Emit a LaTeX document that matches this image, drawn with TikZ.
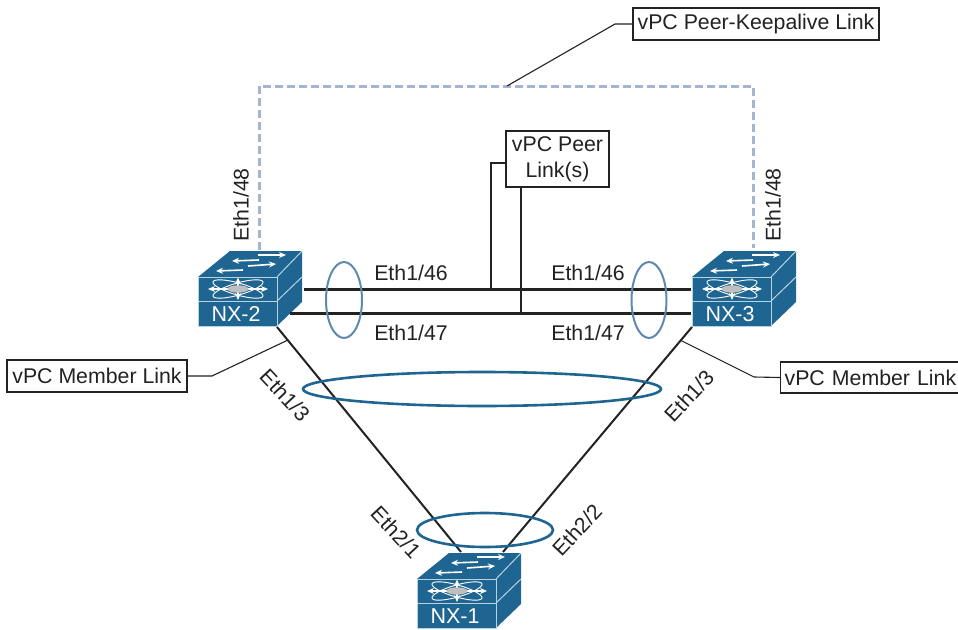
\documentclass[tikz,border=0pt]{standalone}
\usepackage{fontspec}
\setmainfont{Liberation Sans}
\usetikzlibrary{shapes.geometric,arrows.meta}
\definecolor{swblue}{HTML}{1F6592}
\definecolor{swedge}{HTML}{B5D3E2}
\definecolor{ringdark}{HTML}{1F6592}
\definecolor{ringlight}{HTML}{5F88B0}
\definecolor{keep}{HTML}{A3B5D0}
\definecolor{ink}{HTML}{222222}
\tikzset{
  x=1pt,y=-1pt,
  lbl/.style={text=ink,font=\fontsize{21.3}{24}\selectfont,inner sep=0pt},
  callout/.style={draw=ink,line width=1.2pt,fill=white,text=ink,font=\fontsize{21.3}{26}\selectfont,inner sep=0pt,align=center},
  thin line/.style={draw=ink,line width=1.1pt},
  uplink/.style={draw=ink,line width=2pt},
  trunk/.style={draw=ink,line width=3pt},
  ring/.style={ellipse,draw,inner sep=0pt,fill=none},
  swarrow/.style={white,line width=1.6pt,-{Stealth[length=7pt,width=6pt]}},
  pics/switch/.style={code={
    \path[fill=swblue] (0,0)--(32,-26)--(104,-26)--(104,25)--(79,49)--(0,49)--cycle;
    \draw[swedge,line width=1pt] (0,0)--(79,0)--(79,49)--(0,49)--cycle;
    \draw[swedge,line width=1pt] (0,24)--(79,24);
    \draw[swedge,line width=1pt] (79,0)--(104,-26);
    \draw[swedge,line width=1pt] (79,24)--(104,0);
    \draw[swarrow] (60,-22)--(88,-22);
    \draw[swarrow] (61,-17)--(34,-16);
    \draw[swarrow] (50,-11)--(78,-13);
    \draw[swarrow] (45,-7)--(18,-6);
    \draw[white,line width=.9pt,rotate around={16:(40,12)}] (40,12) ellipse [x radius=26,y radius=6];
    \draw[white,line width=.9pt,rotate around={-16:(40,12)}] (40,12) ellipse [x radius=26,y radius=6];
    \draw[swarrow,line width=1.4pt] (40,12)--(10,12);
    \draw[swarrow,line width=1.4pt] (40,12)--(70,12);
    \draw[swarrow,line width=2.4pt] (40,12)--(40,0.5);
    \draw[swarrow,line width=2.4pt] (40,12)--(40,23);
    \fill[black!25] (40,12) ellipse [x radius=10.5,y radius=3.7];
    \node[white,font=\fontsize{21.5}{24}\selectfont,inner sep=0pt] (-name) at (38,37) {#1};
    \coordinate (-o) at (0,0);
  }}
}
\begin{document}
\begin{tikzpicture}
\useasboundingbox (0,0) rectangle (958,629);
% switches
\pic (nxb) at (198,277) {switch={NX-2}};
\pic (nxc) at (692,277) {switch={NX-3}};
\pic (nxa) at (417,579) {switch={NX-1}};
% anchor points
\coordinate (kl) at (259,250);
\coordinate (ku) at (259,86);
\coordinate (kv) at (753,86);
\coordinate (kr) at (753,248);
\coordinate (kmid) at (507,86);
\coordinate (t1a) at (304,289);
\coordinate (t1b) at (691,289);
\coordinate (t2a) at (290,313);
\coordinate (t2b) at (691,313);
\coordinate (ua) at (277,327);
\coordinate (ub) at (461,552);
\coordinate (uc) at (692,327);
\coordinate (ud) at (503,552);
\coordinate (ml) at (288,340);
\coordinate (mr) at (680,340);
\coordinate (pj1) at (491,289);
\coordinate (pj2) at (521,313);
% callouts
\node[callout,minimum width=246pt,minimum height=32pt] (keepbox) at (756,24) {vPC Peer-Keepalive Link};
\node[callout,minimum width=103pt,minimum height=56pt] (peerbox) at (557.5,159) {vPC Peer\\Link(s)};
\node[callout,minimum width=180pt,minimum height=32pt] (memL) at (97,376) {vPC Member Link};
\node[callout,minimum width=190pt,minimum height=31pt,anchor=west,text width=190pt,align=left] (memR) at (780,377.5) {\hspace{4pt}vPC Member Link};
% keepalive
\draw[keep,line width=3pt,dash pattern=on 8pt off 4pt] (kl)--(ku)--(kv)--(kr);
% links
\draw[trunk] (t1a)--(t1b);
\draw[trunk] (t2a)--(t2b);
\draw[uplink] (ua)--(ub);
\draw[uplink] (uc)--(ud);
% call-out leaders
\draw[thin line] (kmid)--(615,24)--(keepbox.west);
\draw[thin line] ([yshift=-4pt]peerbox.west)--(491,163)--(pj1);
\draw[thin line] (521,187)--(pj2);
\draw[thin line] (memL.east)--(212,376)--(ml);
\draw[thin line] (memR.west)--(754,377)--(mr);
% rings
\node[ring,draw=ringlight,line width=2pt,minimum width=36pt,minimum height=76pt] (r1) at (344,300) {};
\node[ring,draw=ringlight,line width=2pt,minimum width=35pt,minimum height=76pt] (r2) at (649,300) {};
\node[ring,draw=ringdark,line width=2.6pt,minimum width=358pt,minimum height=34pt] (r3) at (482,389) {};
\node[ring,draw=ringdark,line width=2.6pt,minimum width=136pt,minimum height=34pt] (r4) at (485,530) {};
% labels
\node[lbl,rotate=90] (l1) at (241,205) {Eth1/48};
\node[lbl,rotate=90] (l2) at (773,205) {Eth1/48};
\node[lbl] (l3) at (411,273) {Eth1/46};
\node[lbl] (l4) at (588,273) {Eth1/46};
\node[lbl] (l5) at (411,333) {Eth1/47};
\node[lbl] (l6) at (588,333) {Eth1/47};
\node[lbl,rotate=-47] (l7) at (285,395) {Eth1/3};
\node[lbl,rotate=47] (l8) at (689,396) {Eth1/3};
\node[lbl,rotate=-47] (l9) at (396,532) {Eth2/1};
\node[lbl,rotate=47] (l10) at (577,530) {Eth2/2};
\end{tikzpicture}
\end{document}
